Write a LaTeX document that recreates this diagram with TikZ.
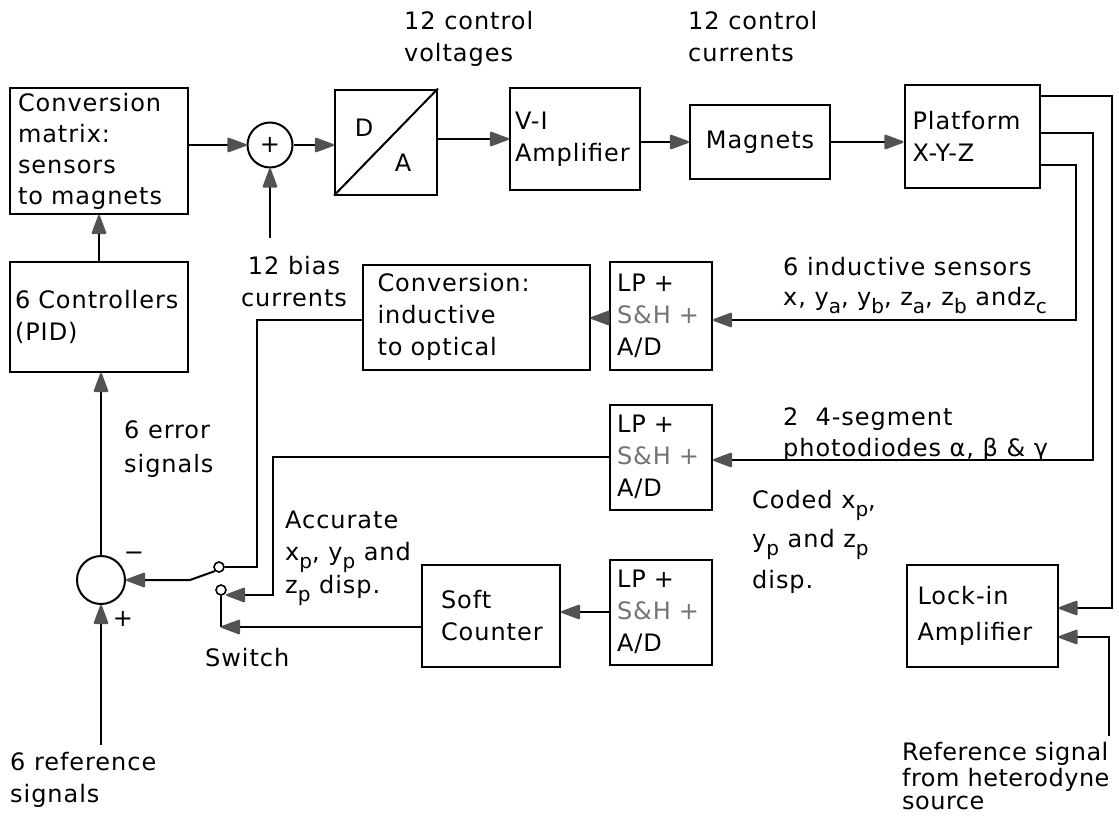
\documentclass[tikz,border=0pt]{standalone}
\usepackage{fontspec}
\setmainfont{DejaVu Sans}[LetterSpace=4]
\usetikzlibrary{arrows.meta,calc}
\newcommand\mysub[1]{\raisebox{-8pt}{\fontsize{20}{20}\selectfont #1}}
\begin{document}
\begin{tikzpicture}[x=1pt,y=-1pt,
  font=\fontsize{24}{32}\selectfont,
  box/.style={draw,line width=2pt,inner xsep=8pt,inner ysep=0pt,align=left},
  lpbox/.style={box,inner xsep=7pt,text width=88pt},
  arr/.style={line width=2pt,-{Triangle[length=21pt,width=15pt,round,color=black!68]}},
  ln/.style={line width=2pt},
  lbl/.style={anchor=base west,inner sep=0pt},
  contact/.style={draw,line width=1.6pt,circle,minimum size=10pt,inner sep=0pt}]
\useasboundingbox (0,0) rectangle (1119,816);

% boxes
\node[box,text width=162pt,minimum height=126pt,font=\fontsize{24}{31}\selectfont] (cm) at (99,151) {Conversion\\matrix:\\sensors\\to magnets};
\node[box,inner xsep=5pt,text width=168pt,minimum height=110pt] (ctrl) at (99,317) {6 Controllers\\(PID)};
\node[draw,ln,minimum width=102pt,minimum height=105pt,inner sep=0pt] (da) at (386,142) {};
\draw[ln] (da.south west) -- (da.north east);
\node[inner sep=0pt] (dl) at (364,128) {D};
\node[inner sep=0pt] (al) at (403,163) {A};
\node[box,inner xsep=5pt,text width=120pt,minimum height=102pt] (vi) at (575,139) {V-I\\Amplifier};
\node[draw,ln,minimum width=140pt,minimum height=74pt,align=center] (mag) at (760,142) {Magnets};
\node[box,text width=119pt,minimum height=103pt] (plat) at (972,136) {Platform\\X-Y-Z};
\node[box,inner xsep=15pt,text width=197pt,minimum height=105pt] (ci) at (476,317) {Conversion:\\inductive\\to optical};
\node[lpbox,minimum height=108pt] (lp1) at (661,316) {LP +\\\textcolor{black!55}{S\&H +}\\A/D};
\node[lpbox,minimum height=105pt] (lp2) at (661,457) {LP +\\\textcolor{black!55}{S\&H +}\\A/D};
\node[lpbox,minimum height=105pt] (lp3) at (661,612) {LP +\\\textcolor{black!55}{S\&H +}\\A/D};
\node[box,inner xsep=19pt,text width=100pt,minimum height=102pt] (sc) at (491,616) {Soft\\Counter};
\node[box,inner xsep=11pt,text width=129pt,minimum height=102pt,font=\fontsize{24}{36}\selectfont] (li) at (982,616) {Lock-in\\Amplifier};

% junctions
\node[draw,ln,circle,minimum size=45pt,inner sep=0pt,font=\fontsize{24}{24}\selectfont] (sum) at (270,145) {+};
\node[draw,ln,circle,minimum size=48pt,inner sep=0pt] (err) at (101,580) {};
\node[contact] (c1) at (219,567) {};
\node[contact] (c2) at (221,590) {};
\node[inner sep=0pt] (minus) at (134,556) {\textminus};
\node[inner sep=0pt] (plus) at (123,619) {+};

% free ends
\coordinate (bias) at (270,238);
\coordinate (refsig) at (1109,736);
\coordinate (ref6) at (101,745);

% connectors
\draw[arr] (cm.east |- sum) -- (sum);
\draw[arr] (sum) -- (da.west |- sum);
\draw[arr] (bias) -- (sum.south);
\draw[arr] (da.east |- vi.west) -- (vi.west);
\draw[arr] (vi.east |- mag.west) -- (mag.west);
\draw[arr] (mag.east) -- (plat.west |- mag.east);
\draw[arr] (plat.east |- 0,96) -| (1112,608) -- (li.east |- 0,608);
\draw[arr] (plat.east |- 0,133) -| (1093,460) -- (lp2.east |- 0,460);
\draw[arr] (plat.east |- 0,165) -| (1076,320) -- (lp1.east |- 0,320);
\draw[arr] (refsig) |- (li.east |- 0,637);
\draw[arr] (lp1.west |- 0,318) -- (ci.east |- 0,318);
\draw[ln] (ci.west |- 0,320) -| (257,567) -- (c1.east);
\draw[arr] (lp2.west |- 0,457) -| (273,595) -- (226,595);
\draw[arr] (lp3.west |- 0,612) -- (sc.east |- 0,612);
\draw[ln] (c2.south) -- (c2.south |- 0,627);
\draw[arr] (sc.west |- 0,627) -- (c2.south |- 0,627);
\draw[arr] (c1.south west) -- (190,580) -- (err.east);
\draw[arr] (err.north) -- (err.north |- ctrl.south);
\draw[arr] (ctrl.north) -- (cm.south);
\draw[arr] (ref6) -- (err.south);

% labels
\node[lbl] (t1) at (404,30) {12 control};
\node[lbl] (t2) at (404,62) {voltages};
\node[lbl] (t3) at (688,30) {12 control};
\node[lbl] (t4) at (688,62) {currents};
\node[anchor=base,inner sep=0pt] (t5) at (294,274) {12 bias};
\node[anchor=base,inner sep=0pt] (t6) at (294,306) {currents};
\node[lbl] (t7) at (783,275) {6 inductive sensors};
\node[lbl] (t8) at (783,305) {x, y\mysub{a}, y\mysub{b}, z\mysub{a}, z\mysub{b} andz\mysub{c}};
\node[lbl] (t9) at (783,425) {2\ \ 4-segment};
\node[lbl] (t10) at (783,456) {photodiodes α, β \& γ};
\node[lbl] (t11) at (752,508) {Coded x\mysub{p},};
\node[lbl] (t12) at (752,547) {y\mysub{p} and z\mysub{p}};
\node[lbl] (t13) at (752,588) {disp.};
\node[lbl] (t14) at (285,528) {Accurate};
\node[lbl] (t15) at (285,560) {x\mysub{p}, y\mysub{p} and};
\node[lbl] (t16) at (285,593) {z\mysub{p} disp.};
\node[lbl] (t17) at (124,438) {6 error};
\node[lbl] (t18) at (124,472) {signals};
\node[lbl] (t19) at (205,666) {Switch};
\node[lbl] (t20) at (10,770) {6 reference};
\node[lbl] (t21) at (10,802) {signals};
\node[lbl,font=\fontsize{24}{32}\selectfont\addfontfeature{LetterSpace=2}] (t22) at (902,760) {Reference signal};
\node[lbl,font=\fontsize{24}{32}\selectfont\addfontfeature{LetterSpace=2}] (t23) at (902,786) {from heterodyne};
\node[lbl,font=\fontsize{24}{32}\selectfont\addfontfeature{LetterSpace=2}] (t24) at (902,809) {source};
\end{tikzpicture}
\end{document}
